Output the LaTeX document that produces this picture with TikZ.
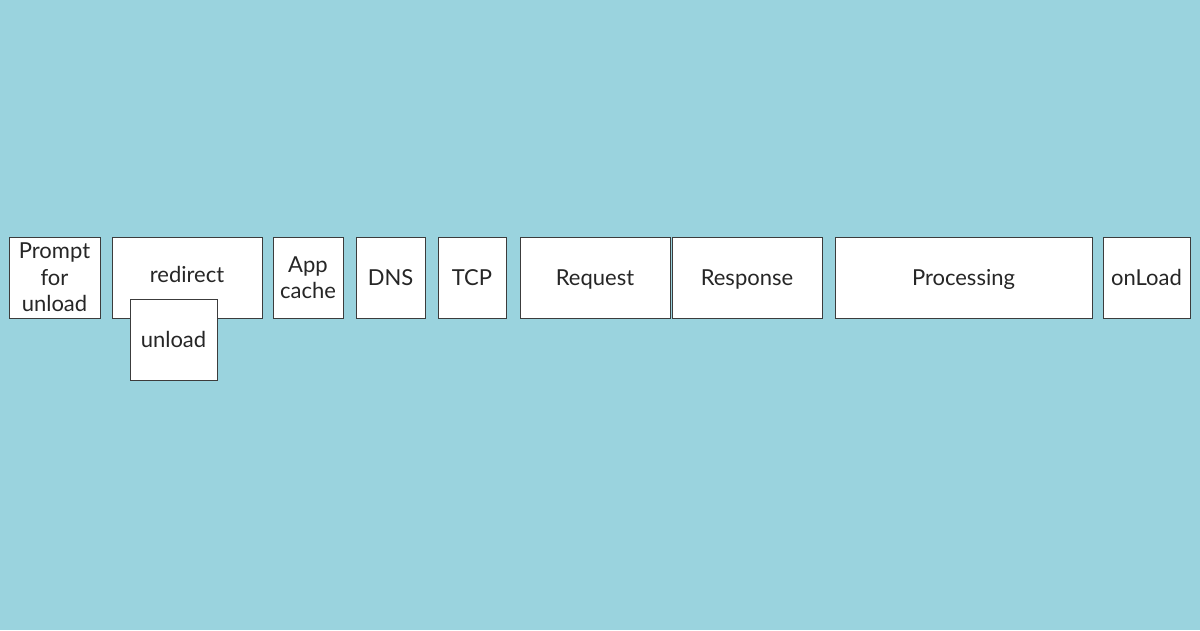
\documentclass[tikz,border=0pt]{standalone}
\usepackage{fontspec}
\setmainfont{Lato}
\usetikzlibrary{positioning}

\definecolor{skyback}{HTML}{9AD3DE}
\definecolor{boxline}{HTML}{3C3C3C}

\begin{document}
\begin{tikzpicture}[x=1pt, y=-1pt, node distance={12pt},
  phase/.style = {draw=boxline, fill=white, line width=1pt, outer sep=0pt, inner sep=0pt,
    minimum height=81pt, align=center, text height=15.5pt, text depth=0pt,
    font=\fontsize{22}{26.5}\selectfont, text=black!85},
  stacked/.style = {phase, text height={}, text depth={}}]

\fill[skyback] (0,0) rectangle (1200,630);
\useasboundingbox (0,0) rectangle (1200,630);

\node[stacked, minimum width=91pt, anchor=north west] (prompt) at (9,237) {Prompt\\for\\unload};
\node[phase, minimum width=150pt] (redirect) [right=12pt of prompt] {\raisebox{3pt}{redirect}};
\node[phase, minimum width=87pt, anchor=north west] (unload) at (130,299) {unload};
\node[stacked, minimum width=70pt] (appcache) [right=11pt of redirect] {App\\cache};
\node[phase, minimum width=69pt] (dns) [right=13pt of appcache] {DNS};
\node[phase, minimum width=68pt] (tcp) [right=13pt of dns] {TCP};
\node[phase, minimum width=150pt] (request) [right=14pt of tcp] {Request};
\node[phase, minimum width=150pt] (response) [right=2pt of request] {Response};
\node[phase, minimum width=257pt] (processing) [right=13pt of response] {Processing};
\node[phase, minimum width=87pt] (onload) [right=11pt of processing] {onLoad};

\end{tikzpicture}
\end{document}
